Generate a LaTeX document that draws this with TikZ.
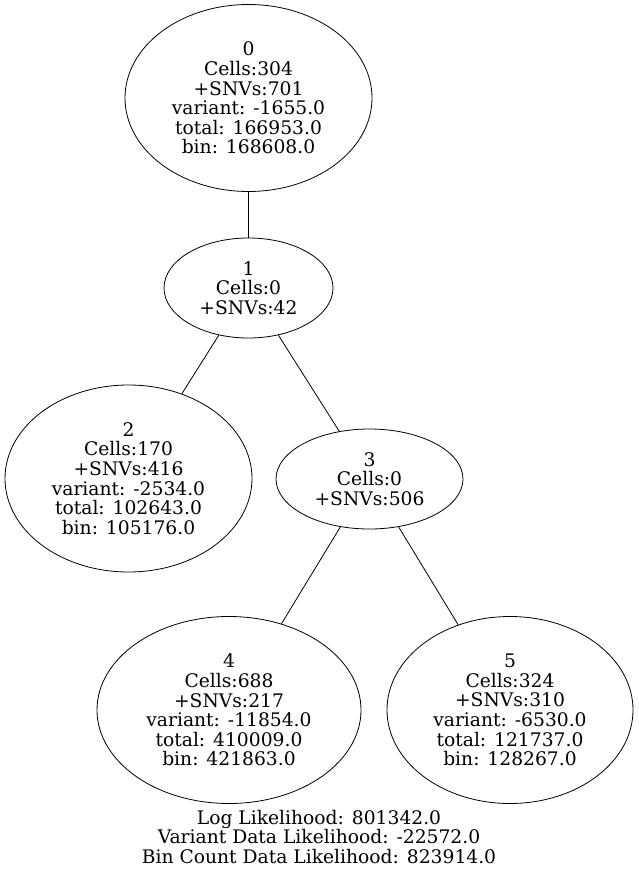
\documentclass[tikz,border=0pt]{standalone}
\usepackage{fontspec}
\setmainfont{DejaVu Serif}
\usetikzlibrary{shapes.geometric}
\begin{document}
\begin{tikzpicture}[x=1pt,y=-1pt,
  every node/.style={font=\fontsize{18.7}{19.6}\selectfont, align=center, inner sep=0pt},
  tn/.style={draw, ellipse, line width=0.8pt},
  edge/.style={draw, line width=0.8pt}]
\useasboundingbox (0,0) rectangle (639,875);
\node[tn, minimum width=247pt, minimum height=187pt] (n0) at (248.5,98) {0\\Cells:304\\+SNVs:701\\variant: -1655.0\\total: 166953.0\\bin: 168608.0};
\node[tn, minimum width=169pt, minimum height=100pt] (n1) at (248.5,288) {1\\Cells:0\\+SNVs:42};
\node[tn, minimum width=247pt, minimum height=187pt] (n2) at (128.5,478.5) {2\\Cells:170\\+SNVs:416\\variant: -2534.0\\total: 102643.0\\bin: 105176.0};
\node[tn, minimum width=187pt, minimum height=100pt] (n3) at (369.5,479) {3\\Cells:0\\+SNVs:506};
\node[tn, minimum width=264pt, minimum height=187pt] (n4) at (229,710) {4\\Cells:688\\+SNVs:217\\variant: -11854.0\\total: 410009.0\\bin: 421863.0};
\node[tn, minimum width=246pt, minimum height=187pt] (n5) at (510,710) {5\\Cells:324\\+SNVs:310\\variant: -6530.0\\total: 121737.0\\bin: 128267.0};
\node (lbl) at (319,837) {Log Likelihood: 801342.0\\Variant Data Likelihood: -22572.0\\Bin Count Data Likelihood: 823914.0};
\draw[edge] (n0) -- (n1);
\draw[edge] (n1) -- (n2);
\draw[edge] (n1) -- (n3);
\draw[edge] (n3) -- (n4);
\draw[edge] (n3) -- (n5);
\end{tikzpicture}
\end{document}
